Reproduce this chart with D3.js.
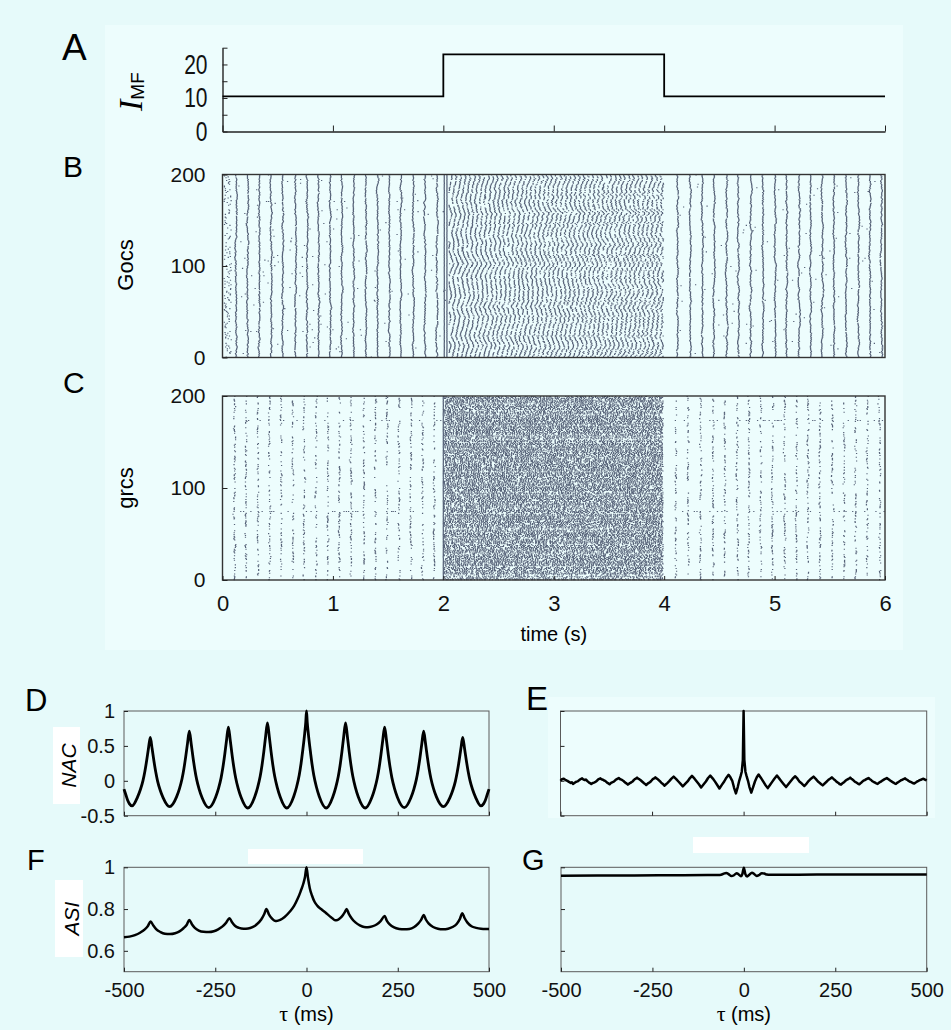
<!DOCTYPE html>
<html>
<head>
<meta charset="utf-8">
<script src="https://cdn.jsdelivr.net/npm/d3@7"></script>
<style>
  html, body { margin: 0; padding: 0; background: #e6fafa; }
  svg { display: block; font-family: "Liberation Sans", Arial, Helvetica, sans-serif; }
  .axis path, .axis line { stroke: #222; }
  .axis text { fill: #111; font-family: "Liberation Sans", Arial, Helvetica, sans-serif; }
</style>
</head>
<body>
<svg id="fig" width="951" height="1030"></svg>
<script>
// ---------------- data ----------------
// mossy-fibre input current (step protocol)
const mfTimes   = [0, 2, 4, 6];
const mfCurrent = [10.5, 23, 10.5, 10.5];
const mfTicks   = [0, 5, 10, 15, 20, 25];
const timeTicks = [0, 1, 2, 3, 4, 5, 6];
const cellTicks = [0, 100, 200];

// Golgi-cell population bursts (s) in the synchronous regime
const gocBursts = [0.118, 0.223, 0.329, 0.434, 0.540, 0.655, 0.760, 0.863, 0.971, 1.074,
  1.183, 1.294, 1.400, 1.505, 1.611, 1.722, 1.828, 1.937,
  4.115, 4.229, 4.341, 4.446, 4.561, 4.667, 4.778, 4.890, 4.998, 5.104, 5.216,
  5.321, 5.427, 5.532, 5.644, 5.753, 5.858, 5.964];
const gocOnsetDoublet = [2.003, 2.027];
const gocIrregularWindow = [2.045, 3.99];
const gocIrregularPeriod = 0.041;

// granule-cell volleys (s) in the synchronous regime
const grcVolleys = [0.103, 0.208, 0.314, 0.419, 0.525, 0.631, 0.736, 0.842, 0.948, 1.053,
  1.158, 1.273, 1.378, 1.484, 1.595, 1.701, 1.807, 1.912,
  4.100, 4.211, 4.326, 4.437, 4.543, 4.658, 4.763, 4.869, 4.975, 5.086, 5.192,
  5.297, 5.406, 5.518, 5.623, 5.729, 5.834, 5.948];
const grcOnsetVolley = [1.994];
const grcIrregularWindow = [2.0, 3.985];
const grcIrregularPeriod = 0.0185;
const grcTonicCells = [74, 173];

// correlation axes
const tauTicks = [-500, -250, 0, 250, 500];
const nacTicks = [-0.5, 0, 0.5, 1];
const asiTicks = [0.6, 0.8, 1];

// NAC, synchronous regime (tau ms, value)
const nacSync = [
  [-500,-0.12],[-495,-0.2],[-490,-0.28],[-485,-0.33],[-478,-0.36],
  [-463,-0.233],[-455,-0.125],[-448,0.003],[-443,0.13],[-438,0.287],[-433,0.463],[-428,0.62],
  [-423,0.462],[-418,0.283],[-413,0.125],[-408,-0.004],[-401,-0.132],[-393,-0.241],[-375,-0.37],
  [-356,-0.23],[-348,-0.111],[-341,0.03],[-336,0.17],[-331,0.343],[-326,0.537],[-321,0.71],
  [-316,0.535],[-311,0.338],[-306,0.163],[-301,0.02],[-294,-0.122],[-286,-0.243],[-268,-0.385],
  [-249,-0.235],[-241,-0.108],[-234,0.042],[-229,0.193],[-224,0.377],[-219,0.585],[-214,0.77],
  [-209,0.584],[-204,0.376],[-199,0.19],[-194,0.039],[-187,-0.112],[-179,-0.239],[-161,-0.39],
  [-142,-0.231],[-134,-0.097],[-127,0.061],[-122,0.22],[-117,0.415],[-112,0.635],[-107,0.83],
  [-102,0.635],[-97,0.415],[-92,0.22],[-87,0.061],[-80,-0.097],[-72,-0.231],[-54,-0.39],
  [-35,-0.225],[-27,-0.085],[-20,0.08],[-15,0.245],[-10,0.448],[-5,0.677],[-2,0.84],[0,1.0],
  [2,0.84],[5,0.677],[10,0.448],[15,0.245],[20,0.08],[27,-0.085],[35,-0.225],[54,-0.39],
  [72,-0.231],[80,-0.097],[87,0.061],[92,0.22],[97,0.415],[102,0.635],[107,0.83],
  [112,0.635],[117,0.415],[122,0.22],[127,0.061],[134,-0.097],[142,-0.231],[161,-0.39],
  [179,-0.239],[187,-0.112],[194,0.039],[199,0.19],[204,0.376],[209,0.584],[214,0.77],
  [219,0.585],[224,0.377],[229,0.193],[234,0.042],[241,-0.108],[249,-0.235],[268,-0.385],
  [286,-0.243],[294,-0.122],[301,0.02],[306,0.163],[311,0.338],[316,0.535],[321,0.71],
  [326,0.537],[331,0.343],[336,0.17],[341,0.03],[348,-0.111],[356,-0.23],[375,-0.37],
  [393,-0.241],[401,-0.132],[408,-0.004],[413,0.125],[418,0.283],[423,0.462],[428,0.62],
  [433,0.463],[438,0.287],[443,0.13],[448,0.003],[455,-0.125],[463,-0.233],
  [478,-0.36],[485,-0.33],[490,-0.28],[495,-0.2],[500,-0.12]
];

// NAC, irregular regime
const nacIrregular = [
  [-500,0.0],[-498,0.012],[-496,0.022],[-491,0.03],[-488,0.018],[-485,0.008],[-481,0.0],[-478,-0.012],[-472,-0.03],[-469,-0.02],[-466,-0.045],[-462,-0.03],[-459,-0.02],
  [-456,-0.012],[-453,-0.008],[-450,0.006],[-447,0.018],[-444,0.026],[-441,0.035],[-438,0.02],[-434,0.012],[-431,0.018],[-428,0.004],[-425,-0.012],[-422,-0.025],[-419,-0.034],[-416,-0.045],[-412,-0.03],[-409,-0.028],
  [-406,-0.02],[-403,-0.01],[-400,0.004],[-397,0.02],[-394,0.028],[-391,0.035],[-388,0.022],[-384,0.015],[-381,0.004],[-378,-0.002],[-375,-0.016],[-372,-0.03],[-369,-0.038],[-366,-0.05],[-362,-0.03],[-359,-0.022],
  [-356,-0.016],[-353,-0.006],[-350,0.01],[-347,0.022],[-344,0.03],[-341,0.04],[-338,0.026],[-334,0.018],[-331,0.008],[-328,-0.002],[-325,-0.018],[-322,-0.03],[-319,-0.04],[-316,-0.055],[-312,-0.038],[-309,-0.03],
  [-306,-0.018],[-303,-0.01],[-300,0.01],[-297,0.025],[-294,0.032],[-291,0.045],[-288,0.03],[-284,0.02],[-281,0.008],[-278,-0.006],[-275,-0.02],[-272,-0.035],[-269,-0.045],[-266,-0.06],[-262,-0.04],[-259,-0.03],
  [-256,-0.02],[-253,-0.006],[-250,0.012],[-247,0.028],[-244,0.036],[-241,0.05],[-238,0.034],[-234,0.022],[-231,0.006],[-228,-0.01],[-225,-0.026],[-222,-0.04],[-219,-0.052],[-216,-0.07],[-212,-0.05],[-209,-0.036],
  [-203,-0.005],[-197,0.032],[-191,0.06],[-184,0.025],[-178,-0.01],[-172,-0.045],[-166,-0.08],[-159,-0.042],
  [-153,-0.01],[-147,0.036],[-141,0.07],[-134,0.03],[-128,-0.01],[-122,-0.05],[-116,-0.095],[-109,-0.05],
  [-103,-0.01],[-97,0.04],[-91,0.075],[-84,0.032],[-78,-0.012],[-72,-0.06],[-66,-0.11],[-59,-0.055],
  [-53,-0.01],[-47,0.045],[-41,0.085],[-36,0.05],[-31,0.0],[-26,-0.1],[-21,-0.18],[-16,-0.09],
  [-12,0.0],[-8,0.07],[-5,0.13],[-2,0.3],[0,1.0],
  [2,0.3],[5,0.13],[8,0.07],[12,0.0],[16,-0.09],[21,-0.17],[26,-0.09],[31,-0.01],[36,0.05],[41,0.09],
  [47,0.045],[53,-0.005],[59,-0.055],[66,-0.105],[72,-0.06],[78,-0.015],[84,0.03],[91,0.075],[97,0.035],
  [103,-0.005],[109,-0.045],[116,-0.09],[122,-0.05],[128,-0.01],[134,0.03],[141,0.065],[147,0.03],
  [153,-0.015],[159,-0.04],[166,-0.075],[172,-0.04],[178,0.0],[184,0.03],[191,0.06],[197,0.028],
  [203,-0.01],[209,-0.035],[212,-0.05],[216,-0.065],[219,-0.05],[222,-0.035],[225,-0.022],[228,-0.005],[231,0.01],[234,0.022],[238,0.036],[241,0.05],[244,0.034],[247,0.02],
  [250,0.008],[253,-0.01],[256,-0.022],[259,-0.03],[262,-0.046],[266,-0.055],[269,-0.04],[272,-0.028],[275,-0.016],[278,0.0],[281,0.012],[284,0.02],[288,0.034],[291,0.045],[294,0.03],[297,0.02],
  [300,0.006],[303,-0.01],[306,-0.02],[309,-0.028],[312,-0.04],[316,-0.05],[319,-0.036],[322,-0.024],[325,-0.008],[328,0.005],[331,0.01],[334,0.02],[338,0.032],[341,0.04],[344,0.026],[347,0.016],
  [350,0.002],[353,-0.01],[356,-0.018],[359,-0.026],[362,-0.036],[366,-0.045],[369,-0.03],[372,-0.02],[375,-0.012],[378,0.0],[381,0.01],[384,0.02],[388,0.03],[391,0.04],[394,0.026],[397,0.018],
  [400,0.004],[403,-0.005],[406,-0.016],[409,-0.025],[412,-0.036],[416,-0.045],[419,-0.03],[422,-0.02],[425,-0.01],[428,0.0],[431,0.012],[434,0.016],[438,0.026],[441,0.035],[444,0.02],[447,0.014],
  [450,0.0],[453,-0.01],[456,-0.016],[459,-0.024],[462,-0.032],[466,-0.04],[469,-0.028],[472,-0.018],[475,-0.006],[478,0.0],[481,0.01],[484,0.015],[488,0.024],[491,0.03],[494,0.02],[496,0.015],[500,0.005]
];

// ASI, synchronous regime
const asiSync = [
  [-500,0.665],[-485,0.668],[-470,0.675],[-455,0.688],[-443,0.703],[-435,0.718],[-427,0.74],
  [-420,0.722],[-412,0.704],[-400,0.69],[-388,0.682],[-374,0.68],[-360,0.684],[-348,0.693],[-337,0.708],[-328,0.725],[-321,0.748],
  [-314,0.727],[-306,0.71],[-295,0.697],[-282,0.691],[-268,0.69],[-254,0.694],[-242,0.703],[-230,0.717],[-220,0.735],[-211,0.756],
  [-204,0.737],[-196,0.72],[-185,0.71],[-172,0.706],[-160,0.707],[-148,0.713],[-136,0.727],[-124,0.75],[-116,0.775],[-110,0.80],
  [-103,0.775],[-95,0.755],[-88,0.745],[-82,0.743],[-72,0.748],[-60,0.762],[-46,0.787],[-34,0.815],[-24,0.85],[-16,0.885],[-9,0.92],[-4,0.955],[0,1.0],
  [4,0.95],[9,0.9],[15,0.865],[22,0.835],[30,0.815],[40,0.8],[54,0.78],[68,0.76],[78,0.747],[85,0.748],[93,0.758],[100,0.772],[105,0.785],[110,0.80],
  [116,0.777],[124,0.755],[134,0.736],[146,0.722],[158,0.714],[168,0.713],[180,0.717],[192,0.726],[203,0.742],[214,0.767],
  [220,0.745],[228,0.727],[240,0.712],[254,0.705],[268,0.703],[282,0.705],[294,0.713],[306,0.73],[314,0.748],[321,0.772],
  [327,0.75],[335,0.73],[347,0.714],[360,0.706],[374,0.703],[388,0.706],[400,0.714],[412,0.73],[420,0.752],[427,0.78],
  [433,0.757],[441,0.735],[452,0.718],[465,0.71],[478,0.706],[490,0.705],[500,0.705]
];

// ASI, irregular regime
const asiIrregular = [
  [-500,0.960],[-400,0.961],[-300,0.961],[-200,0.962],[-100,0.963],[-70,0.963],[-62,0.964],[-55,0.97],
  [-48,0.973],[-41,0.966],[-34,0.958],[-27,0.962],[-20,0.972],[-14,0.966],[-8,0.957],[-4,0.968],[0,0.998],
  [4,0.968],[9,0.956],[15,0.964],[22,0.974],[29,0.967],[35,0.958],[42,0.963],[49,0.972],[56,0.97],
  [63,0.965],[70,0.964],[100,0.964],[200,0.965],[300,0.965],[400,0.965],[500,0.966]
];

// ---------------- layout ----------------
const svg = d3.select("#fig");
const FONT = '"Liberation Sans", Arial, Helvetica, sans-serif';
const SERIF = '"Liberation Serif", "Times New Roman", serif';

// lighter backing panels
svg.append("rect").attr("x", 105).attr("y", 25).attr("width", 798).attr("height", 625).attr("fill", "#edfdfd");
svg.append("rect").attr("x", 548).attr("y", 697).attr("width", 387).attr("height", 121).attr("fill", "#edfdfd");

const xTime = d3.scaleLinear().domain([0, 6]).range([222.5, 885]);
const yMF   = d3.scaleLinear().domain([0, 25]).range([131.5, 47.7]);
const yGoc  = d3.scaleLinear().domain([0, 200]).range([357.5, 174.5]);
const yGrc  = d3.scaleLinear().domain([0, 200]).range([580, 396]);

function panelLabel(txt, x, y, size) {
  svg.append("text").attr("x", x).attr("y", y).attr("font-size", size)
    .attr("font-family", FONT).attr("fill", "#000").text(txt);
}

// ---------- A: input current ----------
panelLabel("A", 62, 60, 37);
const gA = svg.append("g");
const axA = gA.append("g").attr("class", "axis")
  .attr("transform", `translate(${xTime.range()[0]},0)`)
  .call(d3.axisLeft(yMF).tickValues(mfTicks).tickSizeInner(-5).tickSizeOuter(0).tickPadding(15)
    .tickFormat(d => d % 10 === 0 ? String(d) : ""));
axA.selectAll("text").attr("font-size", 21).attr("transform", "scale(1,1.28)");
axA.select(".domain").attr("stroke-width", 1.4);
const axAx = gA.append("g").attr("class", "axis")
  .attr("transform", `translate(0,${yMF(0)})`)
  .call(d3.axisBottom(xTime).tickValues(timeTicks).tickSizeInner(-6).tickSizeOuter(0).tickFormat(""));
axAx.select(".domain").attr("stroke-width", 1.4);
gA.append("path")
  .datum(mfTimes.map((t, i) => [t, mfCurrent[i]]))
  .attr("fill", "none").attr("stroke", "#000").attr("stroke-width", 1.8)
  .attr("d", d3.line().x(d => xTime(d[0])).y(d => yMF(d[1])).curve(d3.curveStepAfter));
const mfLabel = svg.append("text").attr("transform", "translate(142,111) rotate(-90)").attr("fill", "#000");
mfLabel.append("tspan").attr("font-family", SERIF).attr("font-style", "italic").attr("font-size", 34).text("I");
mfLabel.append("tspan").attr("font-family", FONT).attr("font-size", 19).attr("dy", 2).text("MF");

// ---------- rasters ----------
const rng = d3.randomLcg(0.4217);
const uni = (a, b) => a + (b - a) * rng();

// wiggly per-cell timing offset of one population event (correlated along the cell axis)
function wiggle(step, keep) {
  const out = [];
  let v = uni(-step, step);
  for (let i = 0; i < 200; i++) {
    v = keep * v + uni(-step, step);
    out.push(v);
  }
  return out;
}

// chevron-like phase profile along the cell axis (in cycles)
function chevronPhase(slopeMax, runMin, runMax) {
  const out = [];
  let v = rng(), s = uni(-slopeMax, slopeMax), run = uni(runMin, runMax);
  for (let i = 0; i < 200; i++) {
    if (--run <= 0) { s = -Math.sign(s) * uni(0.3 * slopeMax, slopeMax); run = uni(runMin, runMax); }
    v += s + uni(-0.02, 0.02);
    out.push(v);
  }
  return out;
}

// irregular regime: phases drift from cycle to cycle
function irregularSpikes(out, win, T, slope, runMin, runMax, drift, jitter, join) {
  let phase = chevronPhase(slope, runMin, runMax);
  for (let n = 0; win[0] + n * T < win[1]; n++) {
    if (n > 0) { const w = wiggle(drift, 0.9); phase = phase.map((v, i) => v + w[i]); }
    for (let i = 0; i < 200; i++) {
      const f = phase[i] - Math.floor(phase[i]);
      const t = win[0] + (n + f) * T + uni(-jitter, jitter) * T;
      if (t > win[0] && t < win[1] && rng() < join[i]) out.push([t, i]);
    }
  }
}

// Golgi cells
const gocSpikes = [];
gocBursts.forEach(b => {
  const w = wiggle(0.0038, 0.85);
  for (let i = 0; i < 200; i++) {
    if (rng() < 0.985) gocSpikes.push([b + w[i] + uni(-0.0035, 0.0035), i]);
  }
  const extras = b < 1 ? 9 : 5;
  for (let e = 0; e < extras; e++) gocSpikes.push([b + uni(0.015, 0.09), Math.floor(uni(0, 200))]);
});
for (let i = 0; i < 200; i++) {
  if (rng() < 0.7) gocSpikes.push([uni(0.008, 0.075), i]);
}
gocOnsetDoublet.forEach(b => {
  for (let i = 0; i < 200; i++) gocSpikes.push([b + uni(-0.0008, 0.0008), i]);
});
irregularSpikes(gocSpikes, gocIrregularWindow, gocIrregularPeriod, 0.1, 6, 26, 0.04, 0.1,
  d3.range(200).map(() => 0.9));

// granule cells
const grcSpikes = [];
const grcJoin = d3.range(200).map(() => uni(0.22, 0.5));
grcVolleys.forEach(b => {
  const w = wiggle(0.003, 0.88);
  for (let i = 0; i < 200; i++) {
    if (rng() < grcJoin[i]) grcSpikes.push([b + w[i] + uni(-0.005, 0.005), i]);
  }
  grcTonicCells.forEach(c => {
    for (let s = 0; s < 4; s++) if (rng() < 0.25) grcSpikes.push([b + 0.02 + s * 0.02 + uni(-0.004, 0.004), c]);
  });
});
grcOnsetVolley.forEach(b => {
  for (let i = 0; i < 200; i++) grcSpikes.push([b + uni(-0.0008, 0.0008), i]);
});
irregularSpikes(grcSpikes, grcIrregularWindow, grcIrregularPeriod, 0.12, 6, 22, 0.06, 0.35,
  d3.range(200).map(() => (rng() < 0.15 ? 0.55 : 0.88)));

function rasterPath(spikes, y) {
  return spikes.filter(d => d[0] >= 0 && d[0] <= 6)
    .map(([t, i]) => `M${xTime(t).toFixed(2)},${y(i + 1).toFixed(2)}h1.25v1.05h-1.25z`).join("");
}

function rasterPanel(label, labelY, name, y, spikes, nameY) {
  panelLabel(label, 63, labelY, 30);
  const g = svg.append("g");
  g.append("path").attr("d", rasterPath(spikes, y)).attr("fill", "#2b3652").attr("fill-opacity", 0.78);
  const [y0, y1] = y.range();
  g.append("rect").attr("x", xTime.range()[0]).attr("y", y1)
    .attr("width", xTime.range()[1] - xTime.range()[0]).attr("height", y0 - y1)
    .attr("fill", "none").attr("stroke", "#333").attr("stroke-width", 1.4);
  const ay = g.append("g").attr("class", "axis").attr("transform", `translate(${xTime.range()[0]},0)`)
    .call(d3.axisLeft(y).tickValues(cellTicks).tickSizeInner(-5).tickSizeOuter(0).tickPadding(17).tickFormat(d => String(d)));
  ay.select(".domain").remove();
  ay.selectAll("text").attr("font-size", 21);
  svg.append("text").attr("transform", `translate(133,${nameY}) rotate(-90)`)
    .attr("text-anchor", "middle").attr("font-size", 22).attr("font-family", FONT).text(name);
  return g;
}

rasterPanel("B", 177, "Gocs", yGoc, gocSpikes, 265);
const gC = rasterPanel("C", 393, "grcs", yGrc, grcSpikes, 488);
const axC = gC.append("g").attr("class", "axis").attr("transform", `translate(0,${yGrc(0)})`)
  .call(d3.axisBottom(xTime).tickValues(timeTicks).tickSizeInner(-4).tickSizeOuter(0).tickPadding(15).tickFormat(d => String(d)));
axC.select(".domain").remove();
axC.selectAll("text").attr("font-size", 22);
svg.append("text").attr("x", (xTime.range()[0] + xTime.range()[1]) / 2).attr("y", 641)
  .attr("text-anchor", "middle").attr("font-size", 20).attr("font-family", FONT).text("time (s)");

// ---------- correlation panels ----------
function corrPanel(opts) {
  const x = d3.scaleLinear().domain([-500, 500]).range([opts.x0, opts.x1]);
  const y = d3.scaleLinear().domain(opts.yDomain).range([opts.yBottom, opts.yTop]);
  const g = svg.append("g");
  if (opts.whiteTop) {
    const [wx0, wy0, wx1, wy1] = opts.whiteTop;
    svg.append("rect").attr("x", wx0).attr("y", wy0).attr("width", wx1 - wx0).attr("height", wy1 - wy0).attr("fill", "#fff");
  }
  g.append("rect").attr("x", opts.x0).attr("y", opts.yTop).attr("width", opts.x1 - opts.x0)
    .attr("height", opts.yBottom - opts.yTop).attr("fill", "none").attr("stroke", "#5a5a5a").attr("stroke-width", 1);
  const ay = g.append("g").attr("class", "axis").attr("transform", `translate(${opts.x0},0)`)
    .call(d3.axisLeft(y).tickValues(opts.yTicks).tickSizeInner(-4).tickSizeOuter(0).tickPadding(9)
      .tickFormat(opts.yLabels ? (d => String(d)) : ""));
  ay.select(".domain").remove();
  ay.selectAll("line").attr("stroke", "#555");
  ay.selectAll("text").attr("font-size", 20);
  const ax = g.append("g").attr("class", "axis").attr("transform", `translate(0,${opts.yBottom})`)
    .call(d3.axisBottom(x).tickValues(tauTicks).tickSizeInner(-4).tickSizeOuter(0).tickPadding(11)
      .tickFormat(opts.xLabels ? (d => String(d)) : ""));
  ax.select(".domain").remove();
  ax.selectAll("line").attr("stroke", "#555");
  ax.selectAll("text").attr("font-size", 20);
  g.append("path").datum(opts.data)
    .attr("fill", "none").attr("stroke", "#000").attr("stroke-width", opts.sw || 2.6)
    .attr("stroke-linejoin", "round")
    .attr("d", d3.line().x(d => x(d[0])).y(d => y(d[1])).curve(opts.curve || d3.curveMonotoneX));
  if (opts.xLabels) {
    const t = svg.append("text").attr("x", (opts.x0 + opts.x1) / 2).attr("y", 1021)
      .attr("text-anchor", "middle").attr("font-size", 20).attr("font-family", FONT);
    t.append("tspan").attr("font-family", SERIF).attr("font-size", 22).text("τ");
    t.append("tspan").text(" (ms)");
  }
  if (opts.yName) {
    const [bx0, by0, bx1, by1] = opts.yNameBox;
    svg.append("rect").attr("x", bx0).attr("y", by0).attr("width", bx1 - bx0).attr("height", by1 - by0).attr("fill", "#fff");
    svg.append("text").attr("transform", `translate(${bx1 - 4},${(by0 + by1) / 2}) rotate(-90)`)
      .attr("text-anchor", "middle").attr("font-size", 21).attr("font-style", "italic")
      .attr("font-family", FONT).text(opts.yName);
  }
  panelLabel(opts.label, opts.labelX, opts.labelY, opts.labelSize);
}

corrPanel({ label: "D", labelX: 25, labelY: 711, labelSize: 31, x0: 124, x1: 489, yTop: 711, yBottom: 815.7,
  yDomain: [-0.5, 1], yTicks: nacTicks, yLabels: true, xLabels: false, data: nacSync,
  yName: "NAC", yNameBox: [53, 727, 80, 804], sw: 2.8 });
corrPanel({ label: "E", labelX: 526, labelY: 710, labelSize: 33, x0: 560.5, x1: 926.7, yTop: 711, yBottom: 815.7,
  yDomain: [-0.5, 1], yTicks: nacTicks, yLabels: false, xLabels: false, data: nacIrregular,
  curve: d3.curveLinear, sw: 2.5 });
corrPanel({ label: "F", labelX: 27, labelY: 870, labelSize: 29, x0: 124, x1: 489, yTop: 867.3, yBottom: 971.7,
  yDomain: [0.5, 1], yTicks: asiTicks, yLabels: true, xLabels: true, data: asiSync,
  whiteTop: [248, 849, 363, 864], yName: "ASI", yNameBox: [55, 880, 83, 957], sw: 2.5 });
corrPanel({ label: "G", labelX: 522, labelY: 870, labelSize: 29, x0: 561, x1: 926.7, yTop: 867.3, yBottom: 971.7,
  yDomain: [0.5, 1], yTicks: asiTicks, yLabels: false, xLabels: true, data: asiIrregular,
  whiteTop: [693, 837, 809, 853], sw: 2.5 });
</script>
</body>
</html>
